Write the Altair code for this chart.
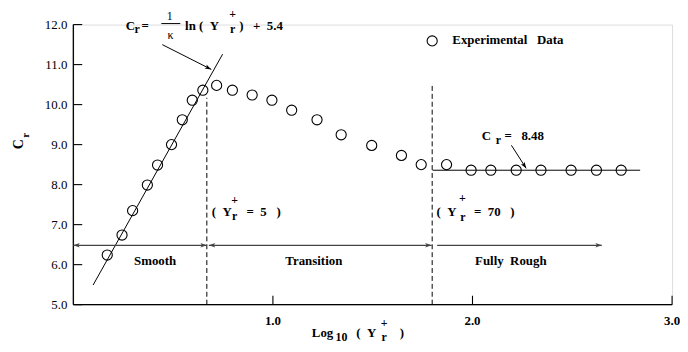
import altair as alt
import pandas as pd

# ---------------- data ----------------
exp_x = [0.170, 0.244, 0.297, 0.371, 0.422, 0.492, 0.546, 0.596, 0.649,
         0.718, 0.797, 0.896, 0.995, 1.094, 1.221, 1.342, 1.495, 1.644, 1.743,
         1.870, 1.993, 2.092, 2.219, 2.343, 2.494, 2.621, 2.745]
exp_y = [6.24, 6.74, 7.35, 7.99, 8.49, 9.00, 9.62, 10.11, 10.36,
         10.48, 10.36, 10.24, 10.11, 9.86, 9.62, 9.245, 8.98, 8.73, 8.50,
         8.50, 8.36, 8.36, 8.36, 8.36, 8.36, 8.36, 8.36]

log_law_x = [0.099, 0.748]
log_law_y = [5.49, 11.26]
plateau_x = [1.80, 2.84]
plateau_y = 8.36

boundary_x = [0.669, 1.798]
boundary_top = [10.17, 10.47]

regime_x1 = [0.0, 0.679, 1.823]
regime_x2 = [0.669, 1.795, 2.648]
regime_y = 6.484

x_ticks = [1.0, 2.0, 3.0]
y_ticks = [5.0, 6.0, 7.0, 8.0, 9.0, 10.0, 11.0, 12.0]
x_domain = [0.0, 3.0]
y_domain = [5.0, 12.0]
x_label_y = 4.481      # baseline of the x tick labels (data units)
y_label_x = -0.0298    # right edge of the y tick labels (data units)

# annotation arrows (pointer lines) and arrow heads
pointer_x1 = [0.446, 2.195]
pointer_y1 = [11.498, 8.983]
pointer_x2 = [0.691, 2.269]
pointer_y2 = [10.880, 8.407]
head_angle = [117, 147]
rhead_x = [0.0, 0.669, 0.679, 1.795, 2.648]
rhead_angle = [270, 90, 270, 90, 90]

# annotation texts: (x, y, text)
NB = "\u00a0"
main_text = [
    (0.263, 11.876, "C"),
    (0.342, 11.876, "="),
    (0.560, 11.876, "ln" + NB + "(" + NB + NB + "Y"),
    (0.831, 11.876, ")" + NB * 3 + "+" + NB * 2 + "5.4"),
    (1.899, 11.505, "Experimental" + NB * 3 + "Data"),
    (2.046, 9.106, "C"),
    (2.160, 9.106, "=" + NB * 3 + "8.48"),
    (0.694, 7.209, "(" + NB * 2 + "Y"),
    (0.868, 7.209, "=" + NB * 2 + "5" + NB * 3 + ")"),
    (1.820, 7.209, "(" + NB * 2 + "Y"),
    (2.008, 7.209, "=" + NB * 2 + "70" + NB * 3 + ")"),
    (1.195, 4.184, "Log"),
    (1.418, 4.184, "(" + NB * 2 + "Y"),
    (1.636, 4.184, ")"),
]
sub_text = [
    (0.307, 11.80, "r"),
    (2.117, 9.007, "r"),
    (1.314, 4.085, "10"),
]
center_text = [
    (0.410, 6.002, "Smooth"),
    (1.205, 6.002, "Transition"),
    (2.192, 6.002, "Fully" + NB + NB + "Rough"),
]
center_small = [
    (0.798, 12.173, "+"),
    (0.798, 11.80, "r"),
    (0.808, 7.523, "+"),
    (0.808, 7.127, "r"),
    (1.949, 7.573, "+"),
    (1.952, 7.103, "r"),
    (1.557, 4.431, "+"),
    (1.557, 4.100, "r"),
]
frac_text = [
    (0.483, 12.124, "1"),
    (0.487, 11.629, "\u03ba"),
]
frac_bar_x = [0.441, 0.536]
frac_bar_y = 12.025
legend_x, legend_y = 1.798, 11.592
ytitle = [(-0.273, 9.007, "C")]
ytitle_sub = [(-0.238, 9.230, "r")]

# ---------------- chart ----------------
W, H = 605, 283
FONT = "Liberation Serif"
xs = alt.Scale(domain=x_domain, nice=False, zero=False)
ys = alt.Scale(domain=y_domain, nice=False, zero=False)


def X(field="x", **kw):
    return alt.X(f"{field}:Q", scale=xs, axis=None, **kw)


def Y(field="y", **kw):
    return alt.Y(f"{field}:Q", scale=ys, axis=None, **kw)


def text_layer(rows, align="left", baseline="alphabetic", size=13, weight="bold", angle=0):
    df = pd.DataFrame(rows, columns=["x", "y", "t"])
    return alt.Chart(df).mark_text(
        align=align, baseline=baseline, font=FONT, fontSize=size,
        fontWeight=weight, angle=angle, color="black"
    ).encode(x=X(), y=Y(), text="t:N")


def rule_layer(df, color="black", width=1.0, dash=None):
    kw = {"color": color, "strokeWidth": width}
    if dash:
        kw["strokeDash"] = dash
    enc = {"x": X(), "y": Y()}
    if "x2" in df:
        enc["x2"] = "x2:Q"
    if "y2" in df:
        enc["y2"] = "y2:Q"
    return alt.Chart(df).mark_rule(**kw).encode(**enc)


pts = pd.DataFrame({"x": exp_x, "y": exp_y})
points = alt.Chart(pts).mark_point(
    shape="circle", filled=False, size=105, stroke="black", strokeWidth=1.1, opacity=1
).encode(x=X(), y=Y())

legend_pt = alt.Chart(pd.DataFrame({"x": [legend_x], "y": [legend_y]})).mark_point(
    shape="circle", filled=False, size=105, stroke="black", strokeWidth=1.1, opacity=1
).encode(x=X(), y=Y())

# axis lines
x_axis_line = rule_layer(pd.DataFrame({"x": [x_domain[0]], "x2": [x_domain[1]],
                                       "y": [y_domain[0]]}), width=1.3)
y_axis_line = rule_layer(pd.DataFrame({"x": [x_domain[0]], "y": [y_domain[0]],
                                       "y2": [y_domain[1]]}), width=1.3)

# inward ticks
yticks = alt.Chart(pd.DataFrame({"y": y_ticks})).mark_rule(color="black", strokeWidth=1.1).encode(
    y=Y(), x=alt.value(0), x2=alt.value(9))
xticks = alt.Chart(pd.DataFrame({"x": x_ticks})).mark_rule(color="black", strokeWidth=1.1).encode(
    x=X(), y=alt.value(H), y2=alt.value(H - 9))

# tick labels
xlabels = alt.Chart(pd.DataFrame({"x": x_ticks, "y": [x_label_y] * len(x_ticks)})).mark_text(
    align="center", baseline="alphabetic", font=FONT, fontSize=13, fontWeight="bold",
    color="black").encode(x=X(), y=Y(), text=alt.Text("x:Q", format=".1f"))
ylabels = alt.Chart(pd.DataFrame({"y": y_ticks, "x": [y_label_x] * len(y_ticks)})).mark_text(
    align="right", baseline="middle", font=FONT, fontSize=13, fontWeight="normal",
    color="black").encode(x=X(), y=Y(), text=alt.Text("y:Q", format=".1f"))

law = rule_layer(pd.DataFrame({"x": [log_law_x[0]], "y": [log_law_y[0]],
                               "x2": [log_law_x[1]], "y2": [log_law_y[1]]}))
plateau = rule_layer(pd.DataFrame({"x": [plateau_x[0]], "x2": [plateau_x[1]],
                                   "y": [plateau_y]}))
bounds = rule_layer(pd.DataFrame({"x": boundary_x, "y": [y_domain[0]] * 2,
                                  "y2": boundary_top}), dash=[5, 3])
regimes = rule_layer(pd.DataFrame({"x": regime_x1, "x2": regime_x2,
                                   "y": [regime_y] * 3}), color="#444444", width=1.2)

ARROW = "M0,0L-0.35,1L0,0.75L0.35,1Z"
rheads = alt.Chart(pd.DataFrame({"x": rhead_x, "y": [regime_y] * len(rhead_x),
                                 "a": rhead_angle})).mark_point(
    shape=ARROW, filled=True, size=170, color="#444444", opacity=1).encode(
    x=X(), y=Y(), angle=alt.Angle("a:Q", scale=None))

pointers = rule_layer(pd.DataFrame({"x": pointer_x1, "y": pointer_y1,
                                    "x2": pointer_x2, "y2": pointer_y2}))
pheads = alt.Chart(pd.DataFrame({"x": pointer_x2, "y": pointer_y2, "a": head_angle})).mark_point(
    shape=ARROW, filled=True, size=170, color="black", opacity=1).encode(
    x=X(), y=Y(), angle=alt.Angle("a:Q", scale=None))

frac_bar = rule_layer(pd.DataFrame({"x": [frac_bar_x[0]], "x2": [frac_bar_x[1]],
                                    "y": [frac_bar_y]}))

layers = [
    x_axis_line, y_axis_line, yticks, xticks, xlabels, ylabels,
    points, legend_pt, law, plateau, bounds, regimes, rheads,
    pointers, pheads, frac_bar,
    text_layer(main_text, size=13),
    text_layer(sub_text, size=12),
    text_layer(center_text, align="center", size=13),
    text_layer(center_small, align="center", size=12),
    text_layer(frac_text, align="center", size=12, weight="normal"),
    text_layer(ytitle, align="center", baseline="middle", size=14, angle=270),
    text_layer(ytitle_sub, align="center", baseline="middle", size=11, angle=270),
]

chart = alt.layer(*layers).properties(
    width=W, height=H,
    autosize=alt.AutoSizeParams(type="none"),
    padding={"left": 66, "top": 15, "right": 8, "bottom": 38},
).configure_view(stroke=None).configure(background="white")

chart.save("out.html", embed_options={"renderer": "svg", "actions": False})
